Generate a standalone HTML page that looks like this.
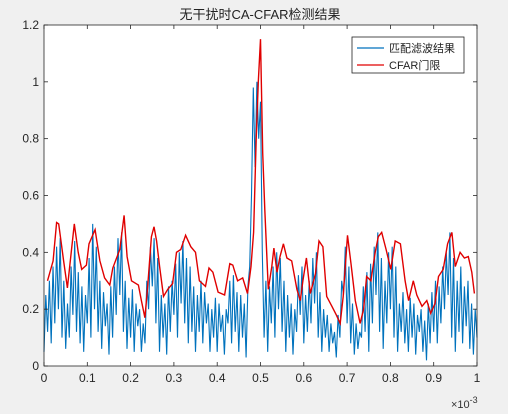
<!DOCTYPE html>
<html><head><meta charset="utf-8"><style>
body{margin:0;background:#f0f0f0;}
svg{display:block;font-family:"Liberation Sans","Noto Sans CJK SC",sans-serif;}
</style></head><body>
<svg id="chart" width="508" height="414" viewBox="0 0 508 414">
<rect x="0" y="0" width="508" height="414" fill="#f0f0f0"/>
<rect x="44" y="25" width="433" height="341" fill="#fff"/>
<g id="series"></g>
<g id="axes"></g>
<text x="260" y="19" text-anchor="middle" font-size="13" fill="#222">无干扰时CA-CFAR检测结果</text>
<text x="451" y="408" font-size="11" fill="#333">×10<tspan dy="-5" font-size="9">-3</tspan></text>
<g>
<rect x="352" y="37" width="112" height="36" fill="#fff" stroke="#222" stroke-width="0.8"/>
<line x1="357" y1="48" x2="384" y2="48" stroke="#0072BD" stroke-width="1.2"/>
<text x="389" y="52" font-size="11" fill="#222">匹配滤波结果</text>
<line x1="357" y1="65" x2="384" y2="65" stroke="#E00000" stroke-width="1.2"/>
<text x="389" y="69" font-size="11" fill="#222">CFAR门限</text>
</g>
</svg>
<script>
const xTicks=[0,0.1,0.2,0.3,0.4,0.5,0.6,0.7,0.8,0.9,1];
const xTickLabels=["0","0.1","0.2","0.3","0.4","0.5","0.6","0.7","0.8","0.9","1"];
const yTicks=[0,0.2,0.4,0.6,0.8,1,1.2];
const yTickLabels=["0","0.2","0.4","0.6","0.8","1","1.2"];
const redX=[0.008,0.021,0.029,0.034,0.045,0.054,0.06,0.07,0.079,0.087,0.098,0.104,0.118,0.129,0.14,0.152,0.159,0.175,0.185,0.192,0.202,0.218,0.225,0.233,0.24,0.248,0.254,0.26,0.267,0.276,0.286,0.297,0.306,0.316,0.327,0.339,0.35,0.359,0.373,0.381,0.39,0.402,0.417,0.429,0.436,0.447,0.459,0.47,0.478,0.484,0.49,0.495,0.5,0.505,0.51,0.518,0.526,0.531,0.538,0.545,0.553,0.561,0.572,0.584,0.592,0.598,0.606,0.615,0.627,0.635,0.644,0.653,0.665,0.675,0.684,0.691,0.701,0.709,0.719,0.73,0.738,0.745,0.755,0.765,0.772,0.78,0.79,0.801,0.811,0.823,0.834,0.842,0.853,0.861,0.873,0.884,0.893,0.903,0.911,0.922,0.932,0.942,0.95,0.961,0.971,0.98,0.988,0.994];
const redY=[0.30,0.37,0.505,0.50,0.373,0.275,0.36,0.50,0.40,0.34,0.355,0.43,0.48,0.37,0.31,0.285,0.345,0.41,0.53,0.385,0.30,0.285,0.23,0.17,0.29,0.455,0.49,0.44,0.35,0.245,0.27,0.29,0.40,0.41,0.46,0.42,0.40,0.30,0.28,0.345,0.33,0.26,0.25,0.36,0.355,0.30,0.31,0.255,0.35,0.47,0.80,1.0,1.15,0.75,0.55,0.27,0.35,0.415,0.33,0.385,0.43,0.38,0.37,0.27,0.23,0.30,0.38,0.255,0.325,0.44,0.42,0.245,0.21,0.18,0.15,0.245,0.46,0.36,0.23,0.15,0.20,0.315,0.30,0.40,0.455,0.47,0.41,0.34,0.44,0.43,0.30,0.23,0.30,0.25,0.21,0.23,0.185,0.22,0.315,0.34,0.43,0.47,0.35,0.40,0.38,0.385,0.33,0.255];
const blueY=[0.05,0.25,0.12,0.30,0.08,0.35,0.15,0.42,0.20,0.45,0.10,0.30,
0.06,0.22,0.10,0.35,0.18,0.44,0.12,0.33,0.08,0.28,0.05,0.25,
0.15,0.38,0.10,0.50,0.20,0.42,0.12,0.30,0.06,0.26,0.14,0.22,
0.04,0.28,0.10,0.35,0.18,0.45,0.25,0.47,0.12,0.30,0.06,0.24,
0.10,0.27,0.05,0.22,0.14,0.20,0.05,0.15,0.08,0.30,0.20,0.42,
0.28,0.45,0.15,0.38,0.05,0.25,0.10,0.22,0.04,0.28,0.12,0.30,
0.18,0.36,0.10,0.40,0.22,0.44,0.15,0.38,0.08,0.35,0.12,0.28,
0.05,0.25,0.12,0.30,0.08,0.26,0.15,0.22,0.05,0.20,0.10,0.24,
0.05,0.22,0.12,0.18,0.04,0.20,0.15,0.30,0.08,0.32,0.12,0.26,
0.05,0.25,0.10,0.22,0.03,0.28,0.35,0.60,0.98,0.70,1.00,0.80,
0.93,0.40,0.10,0.30,0.05,0.28,0.15,0.35,0.10,0.40,0.20,0.38,
0.12,0.30,0.05,0.25,0.10,0.22,0.04,0.20,0.12,0.32,0.18,0.35,
0.08,0.25,0.12,0.30,0.15,0.38,0.22,0.40,0.10,0.26,0.05,0.20,
0.10,0.18,0.05,0.15,0.08,0.12,0.03,0.18,0.10,0.30,0.25,0.42,
0.15,0.35,0.08,0.22,0.04,0.15,0.06,0.12,0.10,0.28,0.12,0.33,
0.05,0.36,0.15,0.42,0.25,0.47,0.12,0.38,0.06,0.30,0.15,0.40,
0.20,0.42,0.10,0.35,0.05,0.22,0.12,0.26,0.08,0.20,0.05,0.24,
0.10,0.22,0.04,0.18,0.12,0.20,0.05,0.16,0.02,0.22,0.08,0.26,
0.12,0.30,0.08,0.28,0.15,0.35,0.20,0.40,0.25,0.47,0.10,0.38,
0.05,0.30,0.12,0.35,0.08,0.28,0.14,0.30,0.06,0.22,0.04,0.20,0.10];

const NS="http://www.w3.org/2000/svg";
const L=44,R=477,T=25,B=366;
const sx=v=>L+v*(R-L);
const sy=v=>B-(v/1.2)*(B-T);
const series=document.getElementById('series');
const axes=document.getElementById('axes');
function mk(tag,attrs,parent){const e=document.createElementNS(NS,tag);for(const k in attrs)e.setAttribute(k,attrs[k]);parent.appendChild(e);return e;}

let bd="";
blueY.forEach((v,i)=>{const x=i/(blueY.length-1);bd+=(i?"L":"M")+sx(x).toFixed(1)+","+sy(v).toFixed(1);});
const bl=mk('path',{d:bd,fill:"none",stroke:"#0072BD","stroke-width":"1.1"},series);



let rd="";
redX.forEach((x,i)=>{rd+=(i?"L":"M")+sx(x).toFixed(1)+","+sy(redY[i]).toFixed(1);});
const rl=mk('path',{d:rd,fill:"none",stroke:"#E00000","stroke-width":"1.4"},series);



const frame=mk('rect',{x:L,y:T,width:R-L,height:B-T,fill:"none",stroke:"#262626","stroke-width":"0.8"},axes);



xTicks.forEach((t,i)=>{
  const x=sx(t);
  mk('line',{x1:x,y1:B,x2:x,y2:B-4,stroke:"#262626","stroke-width":"0.8"},axes);
  mk('line',{x1:x,y1:T,x2:x,y2:T+4,stroke:"#262626","stroke-width":"0.8"},axes);
  const tx=mk('text',{x:x,y:B+16,"text-anchor":"middle","font-size":"12",fill:"#262626"},axes);
  tx.textContent=xTickLabels[i];
  
  
});
yTicks.forEach((t,i)=>{
  const y=sy(t);
  mk('line',{x1:L,y1:y,x2:L+4,y2:y,stroke:"#262626","stroke-width":"0.8"},axes);
  mk('line',{x1:R,y1:y,x2:R-4,y2:y,stroke:"#262626","stroke-width":"0.8"},axes);
  const ty=mk('text',{x:L-5,y:y+4,"text-anchor":"end","font-size":"12",fill:"#262626"},axes);
  ty.textContent=yTickLabels[i];
  
  
});
</script>
</body></html>
